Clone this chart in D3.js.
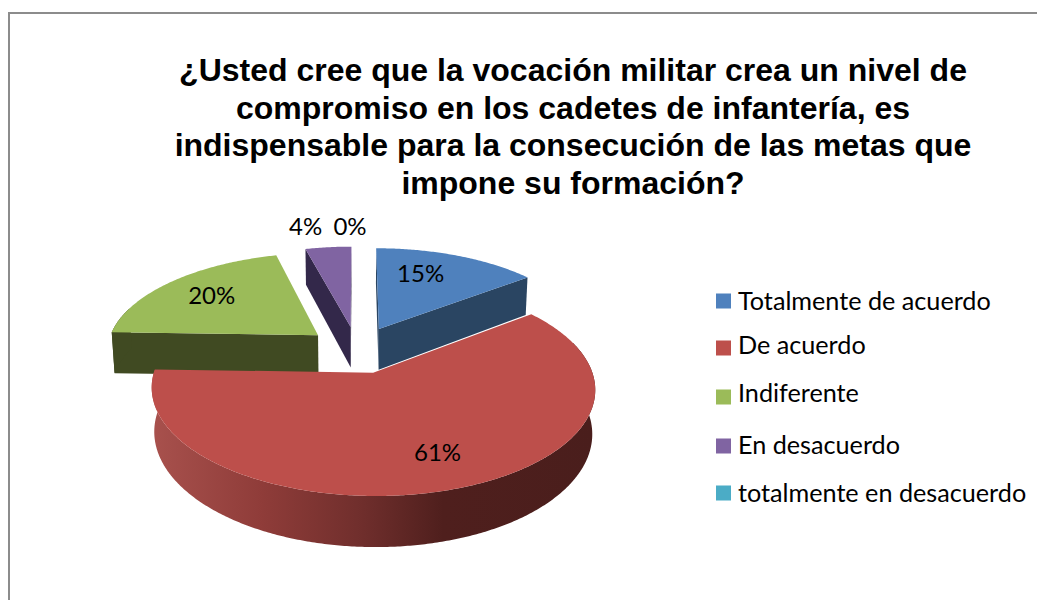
<!DOCTYPE html>
<html>
<head>
<meta charset="utf-8">
<title>Vocación militar</title>
<script src="https://cdnjs.cloudflare.com/ajax/libs/d3/7.8.5/d3.min.js"></script>
<style>
  html, body { margin: 0; padding: 0; background: #fff; overflow: hidden; }
  svg { display: block; }
</style>
</head>
<body>
<svg id="chart" width="1037" height="600"></svg>
<script>
// Data (labels show the rounded value)
const categories = ["Totalmente de acuerdo", "De acuerdo", "Indiferente", "En desacuerdo", "totalmente en desacuerdo"];
const values = [14.6, 60.9, 20.4, 4.1, 0];
const titleLines = [
  "¿Usted cree que la vocación militar crea un nivel de",
  "compromiso en los cadetes de infantería, es",
  "indispensable para la consecución de las metas que",
  "impone su formación?"
];

// Colours
const topColors = ["#4f81bd", "#bd4f4b", "#9bbb59", "#8064a2", "#4bacc6"];
const wallColors = ["#2a4562", "url(#redWall)", "#404a22", "#33284a", "#255966"];

// Layout of the perspective pie
const cx = 357, cy = 349.5, scaleX = 212, scaleY = 98, depth = 42;
const persp = 0.145, perspDepth = 0.012, explode = 0.24;
const labelRadius = [0.74, 0.74, 0.74, 1.3, 1.3];
const labelNudge = [[-18, 0], [7, -3], [4, 1], [-17, 0], [-7, 0]];
const legendRowY = [301, 348, 397, 446, 493];
const legendTextY = [310, 354, 402, 454, 502];

const svg = d3.select("#chart");

// Gradient on the red outer wall
const grad = svg.append("defs").append("linearGradient")
  .attr("id", "redWall")
  .attr("gradientUnits", "userSpaceOnUse")
  .attr("x1", 152).attr("x2", 593).attr("y1", 0).attr("y2", 0);
[[0, "#a8514d"], [0.25, "#8f3c39"], [0.48, "#6f2e2c"], [0.66, "#4f1f1d"], [1, "#4a1e1c"]].forEach(function (s) {
  grad.append("stop").attr("offset", s[0]).attr("stop-color", s[1]);
});

// Chart frame, runs off the right of the page
svg.append("path")
  .attr("d", "M1037,13H9V600")
  .attr("fill", "none")
  .attr("stroke", "#8c8c8c")
  .attr("stroke-width", 2);

// Title
svg.append("g").selectAll("text")
  .data(titleLines)
  .enter().append("text")
  .attr("x", 573)
  .attr("y", function (d, i) { return 81 + i * 37.7; })
  .attr("text-anchor", "middle")
  .style("font-family", "'Liberation Sans', Arial, sans-serif")
  .style("font-weight", "bold")
  .style("font-size", "32px")
  .attr("fill", "#000")
  .text(function (d) { return d; });

// x,y on the unit disc (y = far), z = 0 top face, 1 bottom face
function project(x, y, z) {
  const w = 1 + persp * y;
  return [cx + scaleX * x / (w + perspDepth * z), cy + (depth * z - scaleY * y) / w];
}

const pie = d3.pie().sort(null).value(function (d) { return d; });
const arcs = pie(values).map(function (a, i) {
  const mid = (a.startAngle + a.endAngle) / 2;
  return {
    i: i,
    start: a.startAngle,
    end: a.endAngle,
    mid: mid,
    ox: explode * Math.sin(mid),
    oy: explode * Math.cos(mid)
  };
});

function rim(a, t, r, z) {
  return project(a.ox + r * Math.sin(t), a.oy + r * Math.cos(t), z);
}

function angleSteps(a) {
  const n = Math.max(2, Math.ceil((a.end - a.start) / 0.01));
  return d3.range(n + 1).map(function (k) { return a.start + (a.end - a.start) * k / n; });
}

// Signed area, > 0 means the quad faces the viewer when walked in rim order
function faces(p) {
  return d3.polygonArea(p) > 0;
}

const line = d3.line();
const pieG = svg.append("g");

// Far slices first, the big red one goes last
arcs.filter(function (a) { return values[a.i] > 0; })
  .sort(function (a, b) { return Math.cos(b.mid) - Math.cos(a.mid); })
  .forEach(function (a) {
    const g = pieG.append("g");
    const wall = wallColors[a.i];
    const apexTop = project(a.ox, a.oy, 0), apexBot = project(a.ox, a.oy, 1);

    // flat side walls
    const startQuad = [apexTop, rim(a, a.start, 1, 0), rim(a, a.start, 1, 1), apexBot];
    const endQuad = [rim(a, a.end, 1, 0), apexTop, apexBot, rim(a, a.end, 1, 1)];
    [startQuad, endQuad].forEach(function (q) {
      if (faces(q)) {
        g.append("path").attr("d", line(q) + "Z").attr("fill", wall);
      }
    });

    // outer curved wall, a bit past the silhouette, the top face covers the excess
    const steps = angleSteps(a);
    const visible = steps.filter(function (t) { return Math.cos(t) < 0.3; });
    if (visible.length > 1) {
      const tops = visible.map(function (t) { return rim(a, t, 1, 0); });
      const bots = visible.map(function (t) { return rim(a, t, 1, 1); }).reverse();
      g.append("path").attr("d", line(tops.concat(bots)) + "Z").attr("fill", wall);
    }

    // top face
    const face = [apexTop].concat(steps.map(function (t) { return rim(a, t, 1, 0); }));
    g.append("path").attr("d", line(face) + "Z").attr("fill", topColors[a.i]);
  });

// Data labels
const pct = d3.format(".0f");
svg.append("g").selectAll("text")
  .data(arcs)
  .enter().append("text")
  .attr("x", function (a) { return rim(a, a.mid, labelRadius[a.i], 0)[0] + labelNudge[a.i][0]; })
  .attr("y", function (a) { return rim(a, a.mid, labelRadius[a.i], 0)[1] + labelNudge[a.i][1]; })
  .attr("dy", "0.35em")
  .attr("text-anchor", "middle")
  .style("font-family", "Lato, 'Open Sans', sans-serif")
  .style("font-size", "24px")
  .attr("fill", "#000")
  .text(function (a) { return pct(values[a.i]) + "%"; });

// Legend
const legend = svg.append("g").selectAll("g")
  .data(categories)
  .enter().append("g");
legend.append("rect")
  .attr("x", 716)
  .attr("y", function (d, i) { return legendRowY[i] - 7.5; })
  .attr("width", 15)
  .attr("height", 15)
  .attr("fill", function (d, i) { return topColors[i]; });
legend.append("text")
  .attr("x", 738)
  .attr("y", function (d, i) { return legendTextY[i]; })
  .style("font-family", "Lato, 'Open Sans', sans-serif")
  .style("font-size", "25.2px")
  .attr("fill", "#000")
  .text(function (d) { return d; });
</script>
</body>
</html>
